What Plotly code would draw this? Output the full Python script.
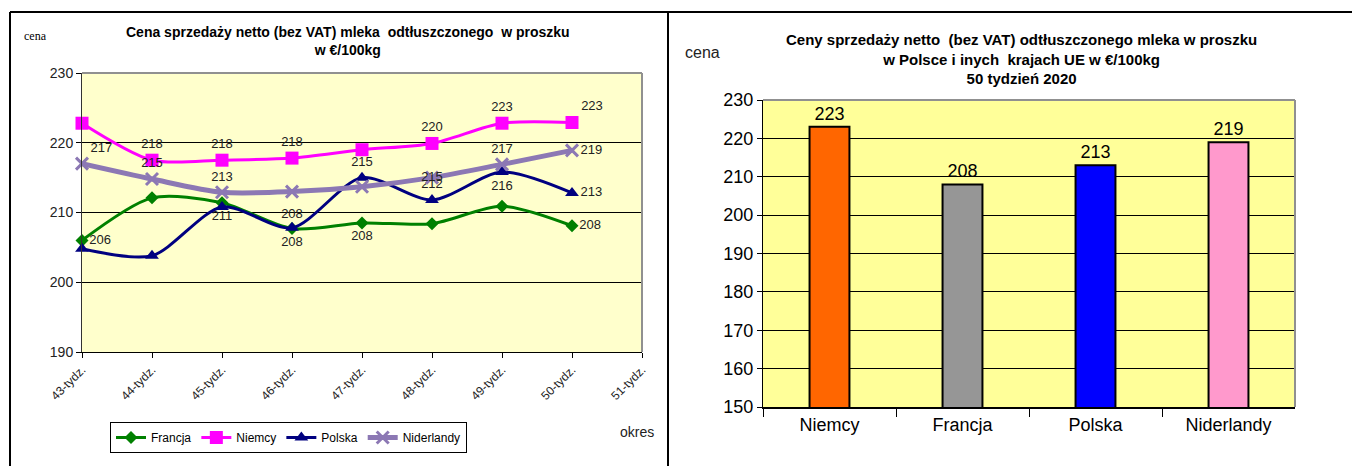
import plotly.graph_objects as go

# ---------------- data ----------------
weeks = ["43-tydz.", "44-tydz.", "45-tydz.", "46-tydz.", "47-tydz.",
         "48-tydz.", "49-tydz.", "50-tydz.", "51-tydz."]
francja = [206.0, 212.1, 211.4, 207.7, 208.5, 208.4, 210.9, 208.1]
niemcy = [222.8, 217.5, 217.5, 217.8, 219.0, 219.9, 222.8, 222.9]
polska = [204.8, 203.8, 210.8, 207.8, 215.0, 211.8, 215.8, 212.8]
niderlandy = [217.0, 214.8, 212.9, 213.0, 213.7, 215.0, 216.9, 218.9]

countries = ["Niemcy", "Francja", "Polska", "Niderlandy"]
prices_w50 = [223, 208, 213, 219]

# ---------------- styles ----------------
OFF = 8                      # browser default body margin
W, H = 1360 - OFF, 466 - OFF
SANS = "Liberation Sans, Arial, sans-serif"
SERIF = "Liberation Serif, Times New Roman, serif"


def px_x(x):
    return (x - OFF) / W


def px_y(y):
    return 1 - (y - OFF) / H


# which point labels are visible and where (index -> textposition)
label_pos = {
    "Francja": {0: "middle right", 2: "bottom center", 3: "top center", 4: "bottom center", 7: "middle right"},
    "Niemcy": {1: "top center", 2: "top center", 3: "top center", 5: "top center", 6: "top center", 7: "top right"},
    "Polska": {3: "bottom center", 4: "top center", 5: "top center", 6: "bottom center", 7: "middle right"},
    "Niderlandy": {0: "top right", 1: "top center", 2: "top center", 5: "middle center", 6: "top center", 7: "middle right"},
}

series = [
    ("Francja", francja, "#008000", "diamond", 10, 3),
    ("Niemcy", niemcy, "#FF00FF", "square", 13, 3),
    ("Polska", polska, "#000080", "triangle-up", 12, 3),
    ("Niderlandy", niderlandy, "#8C78B4", "x-thin", 12, 5),
]

fig = go.Figure()

xs = list(range(len(weeks) - 1))
for name, vals, color, sym, size, lw in series:
    pos = label_pos[name]
    texts = [f"{v:.0f}" if i in pos else "" for i, v in enumerate(vals)]
    tpos = [pos.get(i, "top center") for i in range(len(vals))]
    marker = dict(symbol=sym, size=size, color=color)
    if sym == "x-thin":
        marker["line"] = dict(color=color, width=3)
    fig.add_trace(go.Scatter(
        x=xs, y=vals, name=name, mode="lines+markers+text",
        line=dict(color=color, width=lw, shape="spline", smoothing=0.8),
        marker=marker, text=texts, textposition=tpos,
        textfont=dict(family=SANS, size=13, color="#222222"),
        cliponaxis=False, xaxis="x", yaxis="y",
    ))

bar_colors = ["#FF6600", "#969696", "#0000FF", "#FF99CC"]
fig.add_trace(go.Bar(
    x=countries, y=prices_w50, width=0.3,
    marker=dict(color=bar_colors, line=dict(color="black", width=2)),
    text=[str(v) for v in prices_w50], textposition="outside",
    textfont=dict(family=SANS, size=18, color="black"),
    cliponaxis=False, showlegend=False, xaxis="x2", yaxis="y2",
))

L_X = [px_x(82), px_x(642)]
L_Y = [px_y(352), px_y(73)]
R_X = [px_x(763), px_x(1295)]
R_Y = [px_y(407), px_y(100)]

fig.update_layout(
    width=W, height=H,
    margin=dict(l=0, r=0, t=0, b=0, pad=0, autoexpand=False),
    paper_bgcolor="white", plot_bgcolor="#FFFFCC",
    xaxis=dict(domain=L_X, range=[0, 8], tickmode="array",
               tickvals=list(range(len(weeks))), ticktext=weeks,
               tickangle=-45, ticks="outside", ticklen=5, tickcolor="black",
               showline=True, linecolor="black", linewidth=1,
               showgrid=False, zeroline=False, anchor="y",
               tickfont=dict(family=SANS, size=12, color="#222222")),
    yaxis=dict(domain=L_Y, range=[190, 230], dtick=10, ticks="outside",
               ticklen=5, tickcolor="black", showline=True, linecolor="#333333",
               showgrid=True, gridcolor="black", gridwidth=1, zeroline=False,
               anchor="x", tickfont=dict(family=SANS, size=14, color="#222222")),
    xaxis2=dict(domain=R_X, type="category", tickson="boundaries",
                ticks="outside", ticklen=8, tickcolor="black",
                showline=True, linecolor="black", linewidth=2,
                showgrid=False, zeroline=False, anchor="y2",
                tickfont=dict(family=SANS, size=18, color="black")),
    yaxis2=dict(domain=R_Y, range=[150, 230], dtick=10, ticks="outside",
                ticklen=5, tickcolor="black", showline=True, linecolor="black",
                linewidth=1, showgrid=True, gridcolor="black", gridwidth=1,
                zeroline=False, anchor="x2",
                tickfont=dict(family=SANS, size=18, color="black")),
    legend=dict(orientation="h", x=px_x(110), y=px_y(422), xanchor="left",
                yanchor="top", bgcolor="white", bordercolor="black",
                borderwidth=1, font=dict(family=SANS, size=12, color="black"),
                itemwidth=30, tracegroupgap=0),
    showlegend=True,
)

# right plot background
fig.add_shape(type="rect", xref="x2 domain", yref="y2 domain", x0=0, x1=1, y0=0, y1=1,
              fillcolor="#FFFF99", line=dict(width=0), layer="below")
# plot borders (top and right, grey)
for xr, yr in (("x domain", "y domain"), ("x2 domain", "y2 domain")):
    fig.add_shape(type="line", xref=xr, yref=yr, x0=0, x1=1, y0=1, y1=1,
                  line=dict(color="#909090", width=2), layer="above")
    fig.add_shape(type="line", xref=xr, yref=yr, x0=1, x1=1, y0=0, y1=1,
                  line=dict(color="#909090", width=2), layer="above")

# frame lines
fig.add_shape(type="line", xref="paper", yref="paper", x0=px_x(10), x1=1,
              y0=px_y(12), y1=px_y(12), line=dict(color="black", width=2))
fig.add_shape(type="line", xref="paper", yref="paper", x0=px_x(10), x1=px_x(10),
              y0=0, y1=px_y(12), line=dict(color="black", width=2))
fig.add_shape(type="line", xref="paper", yref="paper", x0=px_x(668), x1=px_x(668),
              y0=0, y1=px_y(12), line=dict(color="black", width=2))

# texts
ann = [
    dict(text="<b>Cena sprzedaży netto (bez VAT) mleka  odtłuszczonego  w proszku<br>w €/100kg</b>",
         x=px_x(348), y=px_y(41), font=dict(family=SANS, size=14, color="black")),
    dict(text="cena", x=px_x(35), y=px_y(36), font=dict(family=SERIF, size=12, color="black")),
    dict(text="okres", x=px_x(637), y=px_y(432), font=dict(family=SANS, size=14, color="#222222")),
    dict(text="<b>Ceny sprzedaży netto  (bez VAT) odtłuszczonego mleka w proszku<br>w Polsce i inych  krajach UE w €/100kg<br>50 tydzień 2020</b>",
         x=px_x(1021), y=px_y(59), font=dict(family=SANS, size=15, color="black")),
    dict(text="cena", x=px_x(702), y=px_y(52), font=dict(family=SANS, size=16, color="#222222")),
]
for a in ann:
    fig.add_annotation(xref="paper", yref="paper", showarrow=False,
                       xanchor="center", yanchor="middle", **a)

fig.write_html("out.html")
